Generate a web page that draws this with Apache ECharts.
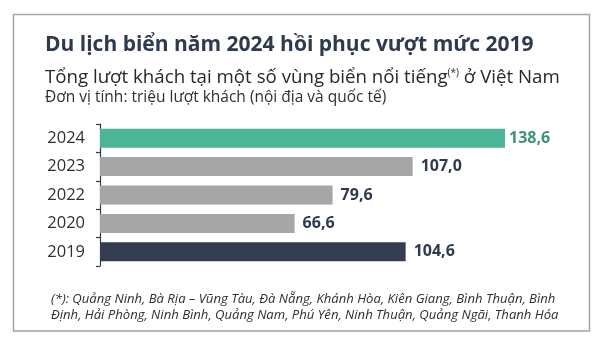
<!DOCTYPE html>
<html>
<head>
<meta charset="utf-8">
<script src="https://cdn.jsdelivr.net/npm/echarts@6/dist/echarts.min.js"></script>
<style>
  html, body { margin: 0; padding: 0; background: #ffffff; }
  #chart { width: 601px; height: 342px; }
</style>
</head>
<body>
<div id="chart"></div>
<script>
// Years shown on the category axis (top to bottom)
const years = ['2024', '2023', '2022', '2020', '2019'];
// Total visitors, million trips (domestic and international)
const visitors = [138.6, 107.0, 79.6, 66.6, 104.6];
// Bar fill per year
const barColors = ['#4db597', '#a6a6a6', '#a6a6a6', '#a6a6a6', '#343e50'];
// Value label colour per year
const labelColors = ['#3a9573', '#2e3a4e', '#2e3a4e', '#2e3a4e', '#2e3a4e'];

const titleText = 'Du lịch biển năm 2024 hồi phục vượt mức 2019';
const subtitleMain = 'Tổng lượt khách tại một số vùng biển nổi tiếng';
const subtitleMark = '(*)';
const subtitleTail = ' ở Việt Nam';
const unitText = 'Đơn vị tính: triệu lượt khách (nội địa và quốc tế)';
const noteLines = [
  '(*): Quảng Ninh, Bà Rịa – Vũng Tàu, Đà Nẵng, Khánh Hòa, Kiên Giang, Bình Thuận, Bình',
  'Định, Hải Phòng, Ninh Bình, Quảng Nam, Phú Yên, Ninh Thuận, Quảng Ngãi, Thanh Hóa'
];

const font = "'Open Sans', 'Noto Sans', sans-serif";
const chart = echarts.init(document.getElementById('chart'), null, { renderer: 'canvas' });

chart.setOption({
  animation: false,
  backgroundColor: '#ffffff',
  graphic: [{
    type: 'rect',
    shape: { x: 13.5, y: 14.5, width: 576, height: 316.5 },
    style: { fill: 'none', stroke: '#a4a499', lineWidth: 1.5 },
    silent: true
  }],
  title: [
    {
      text: titleText, left: 40, top: 30,
      textStyle: { fontFamily: font, fontSize: 21, fontWeight: 'bold', color: '#2e3a4e' }
    },
    {
      text: '{m|' + subtitleMain + '}{s|' + subtitleMark + '}{m|' + subtitleTail + '}',
      left: 40, top: 63,
      textStyle: {
        fontWeight: 'normal',
        rich: {
          m: { fontFamily: font, fontSize: 18.7, fontWeight: 'normal', color: '#24282f' },
          s: { fontFamily: font, fontSize: 10, fontWeight: 'normal', color: '#24282f', verticalAlign: 'top', padding: [0, 0, 8, 0] }
        }
      }
    },
    {
      text: unitText, left: 40, top: 85,
      textStyle: { fontFamily: font, fontSize: 15.5, fontWeight: 'normal', color: '#2b2f36' }
    },
    {
      text: noteLines.join('\n'), left: 46, top: 286,
      textStyle: { fontFamily: font, fontSize: 13.1, fontStyle: 'italic', fontWeight: 'normal', color: '#2b2f36', lineHeight: 16 }
    }
  ],
  grid: { left: 100, right: 62.7, top: 124, bottom: 76, containLabel: false },
  xAxis: {
    type: 'value', min: 0, max: 150, show: false
  },
  yAxis: {
    type: 'category',
    data: years,
    inverse: true,
    axisLine: { show: true, lineStyle: { color: '#2e3a4e', width: 1.2 } },
    axisTick: { show: true, length: 4, lineStyle: { color: '#2e3a4e', width: 1.2 } },
    axisLabel: { fontFamily: font, fontSize: 16.5, color: '#2b2f36', margin: 15 }
  },
  series: [{
    type: 'bar',
    barWidth: 19,
    data: visitors.map((v, i) => ({
      value: v,
      itemStyle: { color: barColors[i] },
      label: { color: labelColors[i], distance: i === 0 ? 4 : 8 }
    })),
    label: {
      show: true,
      position: 'right',
      distance: 8,
      fontFamily: font,
      fontSize: 16,
      fontWeight: 'bold',
      formatter: p => p.value.toFixed(1).replace('.', ',')
    }
  }]
});
</script>
</body>
</html>
